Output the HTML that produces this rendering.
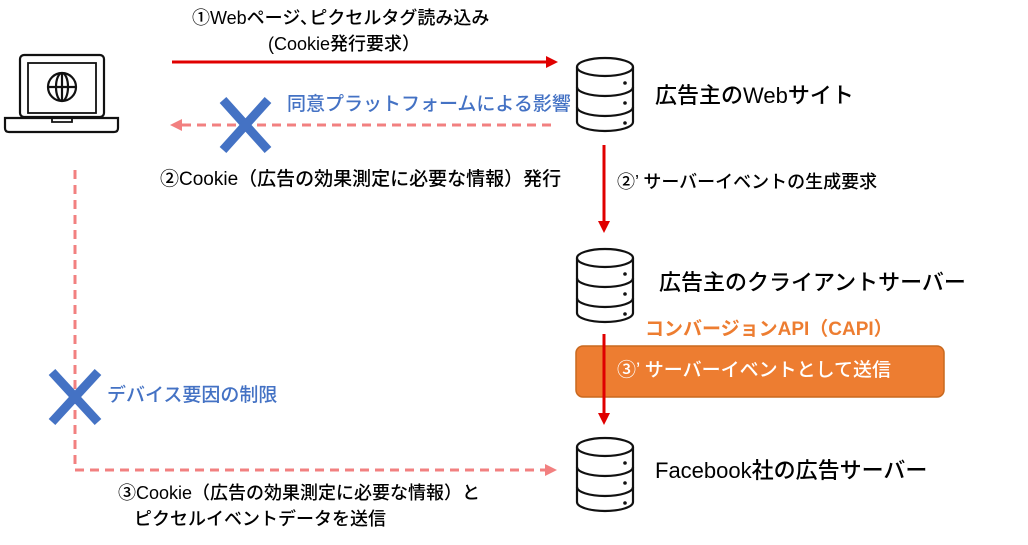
<!DOCTYPE html>
<html><head><meta charset="utf-8"><style>
body{margin:0;width:1028px;height:545px;background:#fff;overflow:hidden;position:relative;font-family:"Liberation Sans","Noto Sans CJK JP",sans-serif;}
.t{position:absolute;white-space:nowrap;line-height:1;font-weight:500;}
</style></head><body>
<svg width="1028" height="545" style="position:absolute;left:0;top:0">
<defs>
<g id="db" fill="#fff" stroke="#111" stroke-width="2.2">
<path d="M0,10 L0,65 A28,9 0 0 0 56,65 L56,10"/>
<ellipse cx="28" cy="10" rx="28" ry="9"/>
<path d="M0,30 A28,9 0 0 0 56,30 M0,50 A28,9 0 0 0 56,50" fill="none"/>
<circle cx="48" cy="26" r="1.8" fill="#111" stroke="none"/>
<circle cx="48" cy="46" r="1.8" fill="#111" stroke="none"/>
<circle cx="48" cy="66" r="1.8" fill="#111" stroke="none"/>
</g>
</defs>
<rect x="20" y="55" width="84" height="62" rx="4" fill="none" stroke="#111" stroke-width="2.2"/>
<rect x="28" y="63" width="68" height="50" fill="none" stroke="#111" stroke-width="1.8"/>
<path d="M5,118 L118,118 L118,128 Q118,132 114,132 L9,132 Q5,132 5,128 Z" fill="none" stroke="#111" stroke-width="2.2"/>
<path d="M52,118 L52,122 L72,122 L72,118" fill="none" stroke="#111" stroke-width="1.8"/>
<g fill="none" stroke="#111" stroke-width="2.2">
<circle cx="62" cy="87" r="14"/>
<ellipse cx="62" cy="87" rx="6" ry="14"/>
<line x1="48" y1="87" x2="76" y2="87"/><line x1="62" y1="73" x2="62" y2="101"/>
</g>
<line x1="172" y1="62" x2="550" y2="62" stroke="#e00000" stroke-width="3"/>
<polygon points="558,62 546,56 546,68" fill="#e00000"/>
<line x1="182" y1="125" x2="556" y2="125" stroke="#f28080" stroke-width="3" stroke-dasharray="9,6"/>
<polygon points="170,125 182,119 182,131" fill="#f28080"/>
<g stroke="#4472c4" stroke-width="9"><line x1="223" y1="100" x2="268" y2="150"/><line x1="268" y1="100" x2="223" y2="150"/></g>
<path d="M75,170 L75,470 L546,470" fill="none" stroke="#f28080" stroke-width="3" stroke-dasharray="9,6"/>
<polygon points="557,470 545,464 545,476" fill="#f28080"/>
<g stroke="#4472c4" stroke-width="9"><line x1="52" y1="372" x2="98" y2="422"/><line x1="98" y1="372" x2="52" y2="422"/></g>
<line x1="604" y1="145" x2="604" y2="222" stroke="#e00000" stroke-width="3"/>
<polygon points="604,233 598,221 610,221" fill="#e00000"/>
<rect x="576" y="346" width="368" height="51" rx="7" fill="#ed7d31" stroke="#c9691f" stroke-width="1.5"/>
<line x1="604" y1="334" x2="604" y2="414" stroke="#e00000" stroke-width="3"/>
<polygon points="604,425 598,413 610,413" fill="#e00000"/>
<use href="#db" x="577" y="57"/>
<use href="#db" x="577" y="248"/>
<use href="#db" x="577" y="437"/>
</svg>
<div class="t" style="left:192px;top:9px;font-size:18px;">①Webページ､ピクセルタグ読み込み</div>
<div class="t" style="left:268px;top:35px;font-size:18px;">(Cookie発行要求）</div>
<div class="t" style="left:287px;top:95px;font-size:19px;color:#4472c4;">同意プラットフォームによる影響</div>
<div class="t" style="left:160px;top:170px;font-size:19px;">②Cookie（広告の効果測定に必要な情報）発行</div>
<div class="t" style="left:617px;top:173px;font-size:18px;">②’ サーバーイベントの生成要求</div>
<div class="t" style="left:655px;top:85px;font-size:22px;">広告主のWebサイト</div>
<div class="t" style="left:659px;top:272px;font-size:22px;">広告主のクライアントサーバー</div>
<div class="t" style="left:645px;top:320px;font-size:19px;color:#ed7d31;font-weight:bold;">コンバージョンAPI（CAPI）</div>
<div class="t" style="left:617px;top:361px;font-size:19px;color:#fff;">③’ サーバーイベントとして送信</div>
<div class="t" style="left:655px;top:460px;font-size:22px;">Facebook社の広告サーバー</div>
<div class="t" style="left:107px;top:386px;font-size:19px;color:#4472c4;">デバイス要因の制限</div>
<div class="t" style="left:118px;top:484px;font-size:18px;">③Cookie（広告の効果測定に必要な情報）と</div>
<div class="t" style="left:134px;top:510px;font-size:18px;">ピクセルイベントデータを送信</div>
</body></html>
